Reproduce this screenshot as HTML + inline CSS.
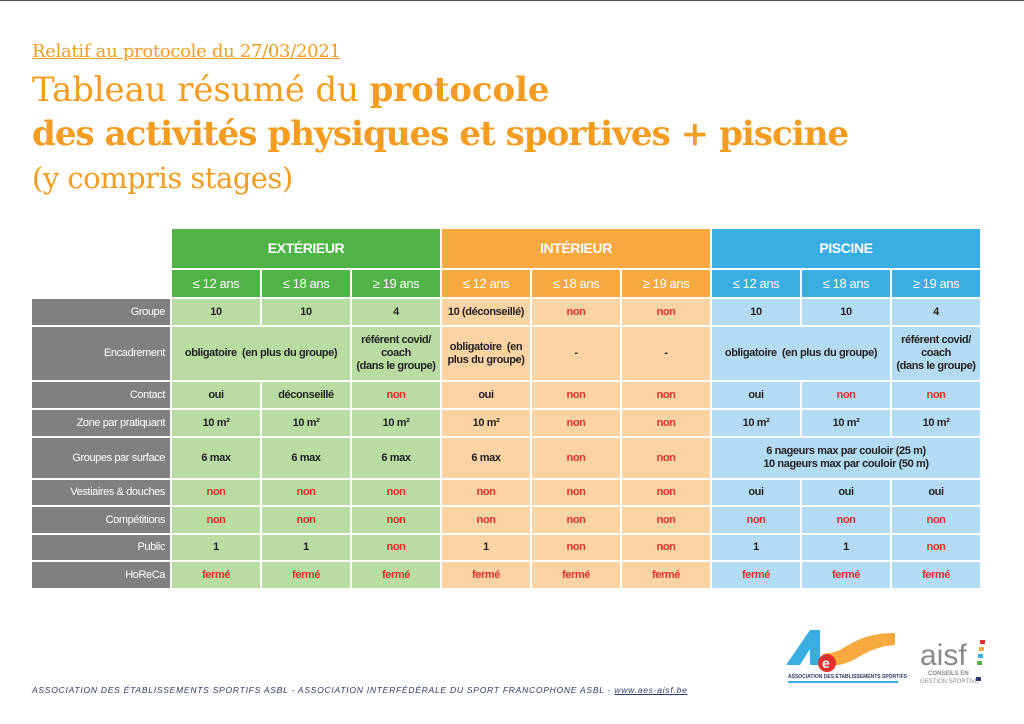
<!DOCTYPE html>
<html><head><meta charset="utf-8"><style>
body{margin:0;width:1024px;height:724px;background:#fff;position:relative;overflow:hidden;font-family:"Liberation Sans",sans-serif}
.topline{position:absolute;left:0;top:0;width:1024px;height:1px;background:#555}
.t{position:absolute;color:#f39c1f;font-family:"DejaVu Serif","Liberation Serif",serif;white-space:nowrap}
table{position:absolute;left:30px;top:227px;border-collapse:separate;border-spacing:2px;table-layout:fixed}
td{padding:0;text-align:center;vertical-align:middle;font-size:11px;font-weight:bold;color:#222;line-height:13px;white-space:nowrap;overflow:hidden;letter-spacing:-0.4px}
td.l{background:#808080;color:#fff;text-align:right;padding-right:5px;font-weight:normal;width:133px}
.gh{background:#4fb445;color:#fff;font-size:14px}
.oh{background:#f5a93f;color:#fff;font-size:14px}
.bh{background:#3aaee3;color:#fff;font-size:14px}
.ga{background:#4fb445;color:#fff;font-weight:normal;font-size:13px}
.oa{background:#f5a93f;color:#fff;font-weight:normal;font-size:13px}
.ba{background:#3aaee3;color:#fff;font-weight:normal;font-size:13px}
.g{background:#b9dca2}.o{background:#fcd3a2}.b{background:#b3dbf3}
.r{color:#e2322b}
.foot{position:absolute;left:32px;top:685px;font-size:8.5px;font-style:italic;color:#2b3a67;letter-spacing:0.75px;font-family:"Liberation Sans",sans-serif;white-space:nowrap}
</style></head><body>
<div class="topline"></div>
<div class="t" style="left:32px;top:41px;font-size:18px;text-decoration:underline;letter-spacing:-0.3px">Relatif au protocole du 27/03/2021</div>
<div class="t" style="left:32px;top:70px;font-size:34px;letter-spacing:-0.1px">Tableau résumé du <b>protocole</b></div>
<div class="t" style="left:32px;top:114px;font-size:34px;font-weight:bold;letter-spacing:-0.95px">des activités physiques et sportives + piscine</div>
<div class="t" style="left:32px;top:161px;font-size:29px;letter-spacing:-0.5px">(y compris stages)</div>
<table>
<colgroup><col style="width:138px"><col span="9" style="width:88px"></colgroup>
<tr style="height:39px"><td></td><td colspan="3" class="gh">EXTÉRIEUR</td><td colspan="3" class="oh">INTÉRIEUR</td><td colspan="3" class="bh">PISCINE</td></tr>
<tr style="height:27px"><td></td><td class="ga">≤ 12 ans</td><td class="ga">≤ 18 ans</td><td class="ga">≥ 19 ans</td><td class="oa">≤ 12 ans</td><td class="oa">≤ 18 ans</td><td class="oa">≥ 19 ans</td><td class="ba">≤ 12 ans</td><td class="ba">≤ 18 ans</td><td class="ba">≥ 19 ans</td></tr>
<tr style="height:26px"><td class="l">Groupe</td><td class="g">10</td><td class="g">10</td><td class="g">4</td><td class="o">10 (déconseillé)</td><td class="o r">non</td><td class="o r">non</td><td class="b">10</td><td class="b">10</td><td class="b">4</td></tr>
<tr style="height:53px"><td class="l">Encadrement</td><td class="g" colspan="2">obligatoire &nbsp;(en plus du groupe)</td><td class="g">référent covid/<br>coach<br>(dans le groupe)</td><td class="o">obligatoire &nbsp;(en<br>plus du groupe)</td><td class="o">-</td><td class="o">-</td><td class="b" colspan="2">obligatoire &nbsp;(en plus du groupe)</td><td class="b">référent covid/<br>coach<br>(dans le groupe)</td></tr>
<tr style="height:26px"><td class="l">Contact</td><td class="g">oui</td><td class="g">déconseillé</td><td class="g r">non</td><td class="o">oui</td><td class="o r">non</td><td class="o r">non</td><td class="b">oui</td><td class="b r">non</td><td class="b r">non</td></tr>
<tr style="height:26px"><td class="l">Zone par pratiquant</td><td class="g">10 m²</td><td class="g">10 m²</td><td class="g">10 m²</td><td class="o">10 m²</td><td class="o r">non</td><td class="o r">non</td><td class="b">10 m²</td><td class="b">10 m²</td><td class="b">10 m²</td></tr>
<tr style="height:40px"><td class="l">Groupes par surface</td><td class="g">6 max</td><td class="g">6 max</td><td class="g">6 max</td><td class="o">6 max</td><td class="o r">non</td><td class="o r">non</td><td class="b" colspan="3">6 nageurs max par couloir (25 m)<br>10 nageurs max par couloir (50 m)</td></tr>
<tr style="height:25px"><td class="l">Vestiaires &amp; douches</td><td class="g r">non</td><td class="g r">non</td><td class="g r">non</td><td class="o r">non</td><td class="o r">non</td><td class="o r">non</td><td class="b">oui</td><td class="b">oui</td><td class="b">oui</td></tr>
<tr style="height:26px"><td class="l">Compétitions</td><td class="g r">non</td><td class="g r">non</td><td class="g r">non</td><td class="o r">non</td><td class="o r">non</td><td class="o r">non</td><td class="b r">non</td><td class="b r">non</td><td class="b r">non</td></tr>
<tr style="height:25px"><td class="l">Public</td><td class="g">1</td><td class="g">1</td><td class="g r">non</td><td class="o">1</td><td class="o r">non</td><td class="o r">non</td><td class="b">1</td><td class="b">1</td><td class="b r">non</td></tr>
<tr style="height:26px"><td class="l">HoReCa</td><td class="g r">fermé</td><td class="g r">fermé</td><td class="g r">fermé</td><td class="o r">fermé</td><td class="o r">fermé</td><td class="o r">fermé</td><td class="b r">fermé</td><td class="b r">fermé</td><td class="b r">fermé</td></tr>
</table>
<div class="foot">ASSOCIATION DES ÉTABLISSEMENTS SPORTIFS ASBL - ASSOCIATION INTERFÉDÉRALE DU SPORT FRANCOPHONE ASBL - <u>www.aes-aisf.be</u></div>
<svg style="position:absolute;left:780px;top:625px" width="220" height="70">
<polygon points="6,40 30,5 40,5 40,40 30,40 30,24 20,40" fill="#3aaee3"/>
<path d="M45,28 C65,30 70,8 115,8 L115,20 C80,22 75,44 45,40 Z" fill="#f5a93f"/>
<circle cx="47" cy="38" r="9" fill="#e2322b"/>
<text x="42" y="43" font-size="14" fill="#fff" font-family="Liberation Sans" font-weight="bold">e</text>
<text x="8" y="53" font-size="5" fill="#2b3a67" font-family="Liberation Sans" font-weight="bold">ASSOCIATION DES ÉTABLISSEMENTS SPORTIFS</text>
<rect x="8" y="56" width="110" height="2" fill="#3aaee3"/>
<text x="140" y="40" font-size="30" fill="#8a8a8a" font-family="Liberation Sans">aisf</text>
<text x="148" y="50" font-size="6" fill="#8a8a8a" font-family="Liberation Sans" font-weight="bold">CONSEILS EN</text>
<text x="140" y="58" font-size="6" fill="#8a8a8a" font-family="Liberation Sans">GESTION SPORTIVE</text>
<rect x="200" y="15" width="5" height="4" fill="#e2322b"/><rect x="199" y="22" width="5" height="4" fill="#f5a93f"/><rect x="198" y="29" width="5" height="4" fill="#3aaee3"/><rect x="197" y="36" width="5" height="4" fill="#4fb445"/><rect x="196" y="52" width="5" height="4" fill="#2b3a67"/>
</svg>
</body></html>
